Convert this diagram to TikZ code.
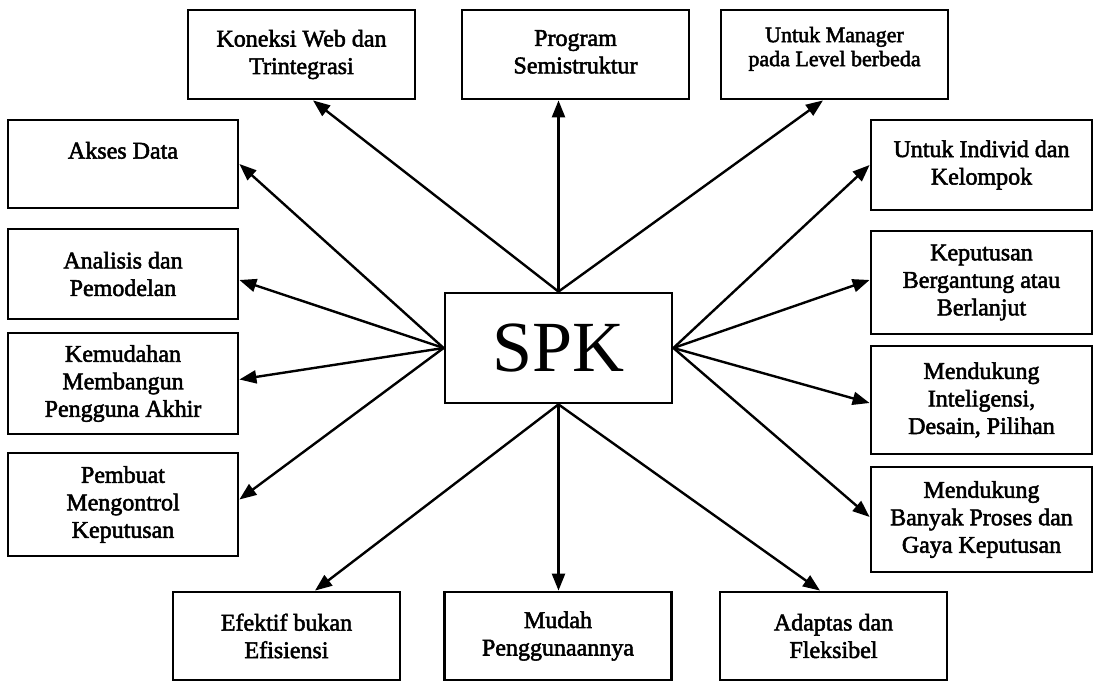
\documentclass[tikz,border=0pt]{standalone}
\usepackage{fontspec}
\setmainfont{Liberation Serif}
\newfontfamily\labelfont[FakeBold=2.2]{Liberation Serif}
\usetikzlibrary{arrows.meta}
\begin{document}
\begin{tikzpicture}[x=1pt,y=-1pt,
  box/.style={draw,line width=2.8pt,minimum width=227pt,minimum height=89pt,
    inner sep=0pt,align=center,font=\labelfont\fontsize{24}{27.5}\selectfont},
  sidebox/.style={box,minimum width=230pt},
  rightbox/.style={box,minimum width=221pt},
  arr/.style={line width=2.4pt,-{Triangle[length=17pt,width=13pt]}}]
% canvas
\fill[white] (0,0) rectangle (1095,682);
\useasboundingbox (0,0) rectangle (1095,682);

% centre
\node[box,minimum width=227pt,minimum height=110pt,
  font=\rmfamily\fontsize{72}{80}\selectfont] (spk) at (558.5,348) {SPK};

% top row
\node[box] (koneksi) at (301.5,54.5) {Koneksi Web dan\\Trintegrasi};
\node[box] (program) at (575.5,54.5) {Program\\Semistruktur\\[-22pt]\mbox{}};
\node[box,minimum height=89pt,font=\labelfont\fontsize{22}{24}\selectfont] (manager) at (834.5,54.5) {Untuk Manager\\pada Level berbeda\\[-8pt]\mbox{}};

% left column
\node[sidebox,minimum height=88pt] (akses) at (123,164) {Akses Data\\\mbox{}};
\node[sidebox,minimum height=90pt] (analisis) at (123,274) {Analisis dan\\Pemodelan};
\node[sidebox,minimum height=101pt] (kemudahan) at (123,383.5) {Kemudahan\\Membangun\\Pengguna Akhir};
\node[sidebox,minimum height=103pt] (pembuat) at (123,504.5) {Pembuat\\Mengontrol\\Keputusan};

% right column
\node[rightbox,minimum height=90pt] (individ) at (981.5,165) {Untuk Individ dan\\Kelompok};
\node[rightbox,minimum height=103pt] (keputusan) at (981.5,282.5) {Keputusan\\Bergantung atau\\Berlanjut};
\node[rightbox,minimum height=108pt] (intel) at (981.5,400) {Mendukung\\Inteligensi,\\Desain, Pilihan};
\node[rightbox,minimum height=105pt] (banyak) at (981.5,519.5) {Mendukung\\Banyak Proses dan\\Gaya Keputusan};

% bottom row
\node[box,minimum height=88pt] (efektif) at (286.5,636) {Efektif bukan\\Efisiensi};
\node[box,minimum height=88pt] (mudah) at (558,636) {Mudah\\Penggunaannya};
\node[box,minimum height=88pt] (adaptas) at (833.5,636) {Adaptas dan\\Fleksibel};

% connectors
\draw[arr] (spk.north) -- ([xshift=11.5pt]koneksi.south);
\draw[arr] (spk.north) -- (spk.north |- program.south);
\draw[arr] (spk.north) -- ([xshift=-11.5pt]manager.south);

\draw[arr] (spk.west) -- (akses.east);
\draw[arr] (spk.west) -- ([yshift=-6pt]analisis.east);
\draw[arr] (spk.west) -- ([yshift=4pt]kemudahan.east);
\draw[arr] (spk.west) -- ([yshift=5pt]pembuat.east);

\draw[arr] (spk.east) -- (individ.west);
\draw[arr] (spk.east) -- ([yshift=2.5pt]keputusan.west);
\draw[arr] (spk.east) -- ([yshift=-3pt]intel.west);
\draw[arr] (spk.east) -- ([yshift=2.5pt]banyak.west);

\draw[arr] (spk.south) -- ([xshift=28.5pt]efektif.north);
\draw[arr] (spk.south) -- (spk.south |- mudah.north);
\draw[arr] (spk.south) -- ([xshift=-13.5pt]adaptas.north);
\end{tikzpicture}
\end{document}
